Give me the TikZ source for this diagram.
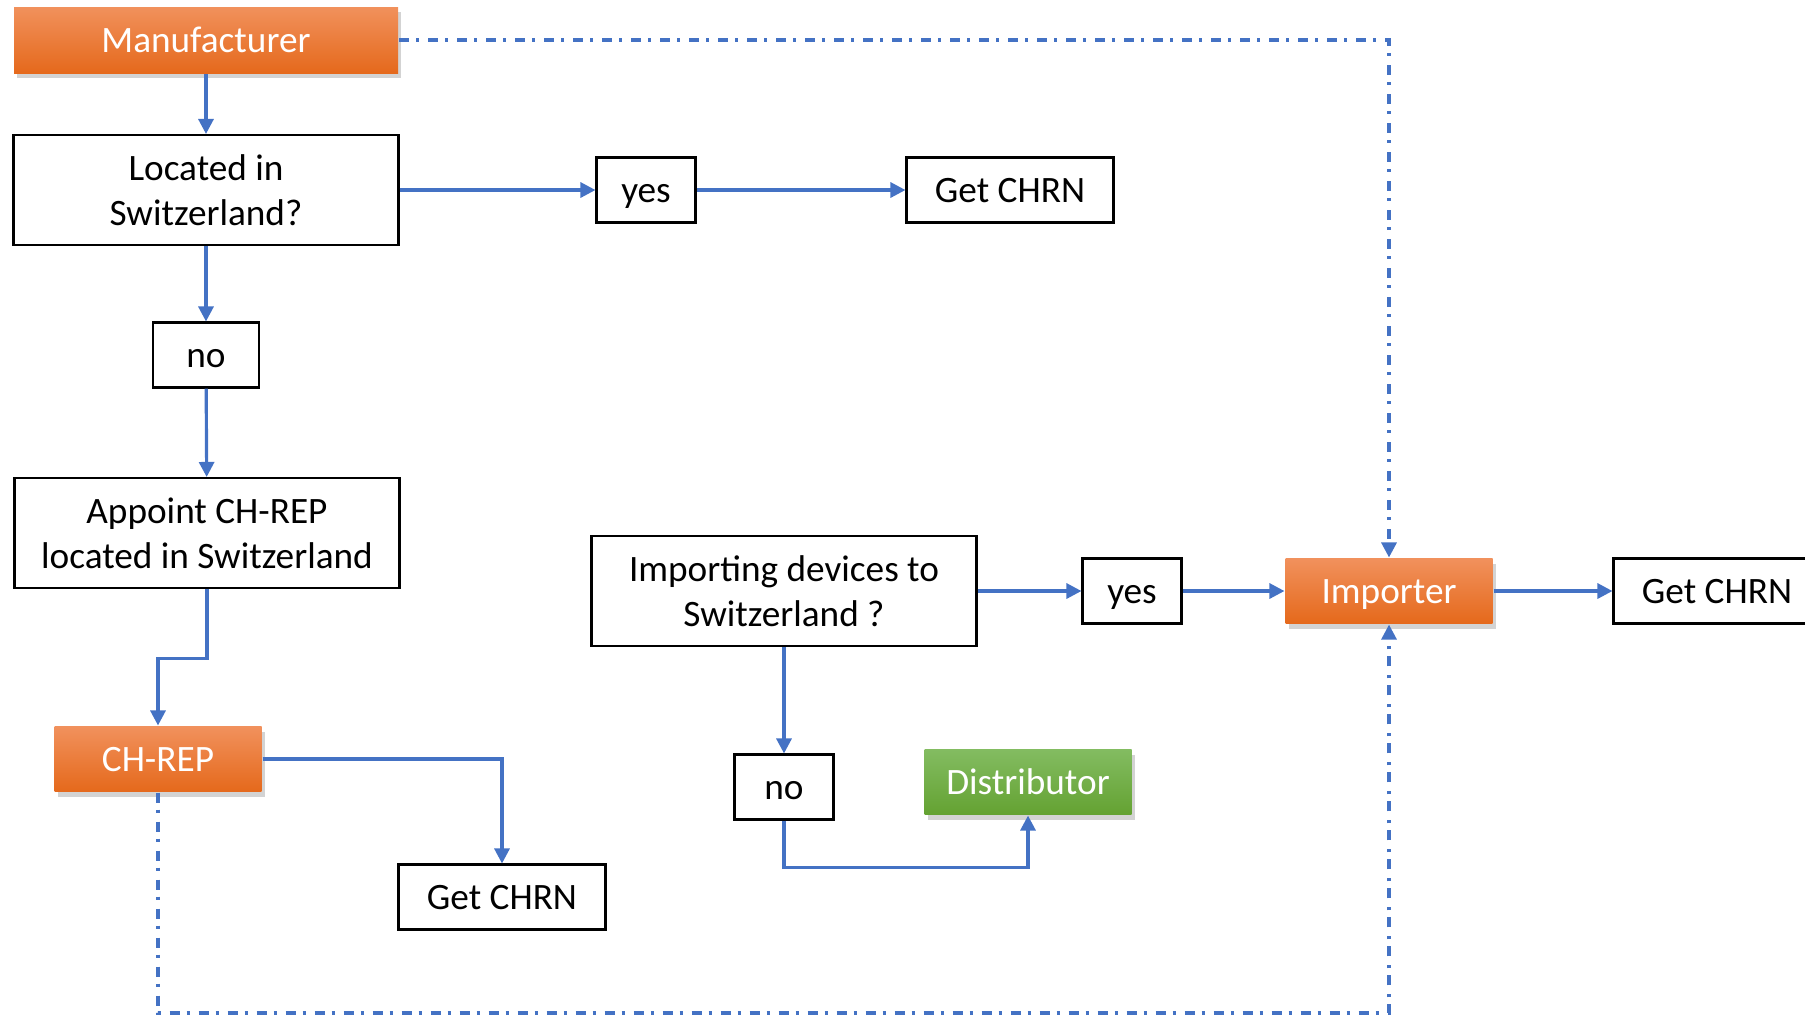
\documentclass[tikz,border=0pt]{standalone}
\usepackage{fontspec}
\setmainfont{Carlito}
\usetikzlibrary{arrows.meta, shadows}
\definecolor{officeblue}{RGB}{68,114,196}
\definecolor{orangetop}{RGB}{241,145,92}
\definecolor{orangebot}{RGB}{229,105,28}
\definecolor{greentop}{RGB}{131,188,97}
\definecolor{greenbot}{RGB}{100,162,50}

\tikzset{
  box/.style={draw=black, line width=0.6pt, fill=white, align=center, inner sep=0pt,
    font=\fontsize{10.6}{12.8}\selectfont},
  widebox/.style={box, minimum width=3.85cm, minimum height=1.10cm},
  % one-line boxes keep the same baseline whatever the letters
  midbox/.style={box, minimum width=2.07cm, minimum height=0.65cm,
    text height=0.28cm, text depth=0.04cm},
  smallbox/.style={midbox, minimum width=0.99cm},
  party/.style={midbox, draw=none, text=white,
    drop shadow={opacity=0.35, shadow xshift=0.03cm, shadow yshift=-0.05cm}},
  orangeparty/.style={party, top color=orangetop, bottom color=orangebot},
  greenparty/.style={party, top color=greentop, bottom color=greenbot},
  flow/.style={draw=officeblue, line width=0.9pt, -{Triangle[width=0.15cm,length=0.15cm]}},
  link/.style={flow, dash pattern=on 0.10cm off 0.07cm on 0.03cm off 0.09cm},
}

\begin{document}
\begin{tikzpicture}
  \useasboundingbox (0,0) rectangle (18.05,-10.15);

  % manufacturer branch
  \node[orangeparty, minimum width=3.84cm, minimum height=0.66cm] (manu) at (2.06,-0.40) {Manufacturer};
  \node[widebox] (located) at (2.06,-1.90) {Located in\\Switzerland?};
  \node[smallbox] (yesA) at (6.46,-1.90) {yes};
  \node[midbox] (chrnA) at (10.10,-1.90) {Get CHRN};
  \node[smallbox, minimum width=1.06cm] (noA) at (2.06,-3.55) {no};
  \node[widebox] (appoint) at (2.07,-5.33) {Appoint CH-REP\\located in Switzerland};
  \node[orangeparty] (chrep) at (1.58,-7.59) {CH-REP};
  \node[midbox] (chrnB) at (5.02,-8.97) {Get CHRN};

  % importer branch
  \node[widebox] (importing) at (7.84,-5.91) {Importing devices to\\Switzerland ?};
  \node[smallbox] (yesB) at (11.32,-5.91) {yes};
  \node[orangeparty] (importer) at (13.89,-5.91) {Importer};
  \node[midbox] (chrnC) at (17.17,-5.91) {Get CHRN};
  \node[smallbox] (noB) at (7.84,-7.87) {no};
  \node[greenparty] (dist) at (10.28,-7.82) {Distributor};

  \coordinate (floor) at (0,-10.13);

  \draw[flow] (manu) -- (located);
  \draw[flow] (located) -- (yesA);
  \draw[flow] (yesA) -- (chrnA);
  \draw[flow] (located) -- (noA);
  \draw[flow] (noA) -- (appoint);
  \draw[flow] (appoint.south) -- ++(0,-0.69) -| (chrep.north);
  \draw[flow] (chrep.east) -| (chrnB.north);

  \draw[flow] (importing) -- (yesB);
  \draw[flow] (yesB) -- (importer);
  \draw[flow] (importer) -- (chrnC);
  \draw[flow] (importing) -- (noB);
  \draw[flow] (noB.south) -- ++(0,-0.47) -| (dist.south);

  % both can act as importer
  \draw[link] (manu.east) -| (importer.north);
  \draw[link] (chrep.south) -- (chrep.south |- floor) -| (importer.south);
\end{tikzpicture}
\end{document}
